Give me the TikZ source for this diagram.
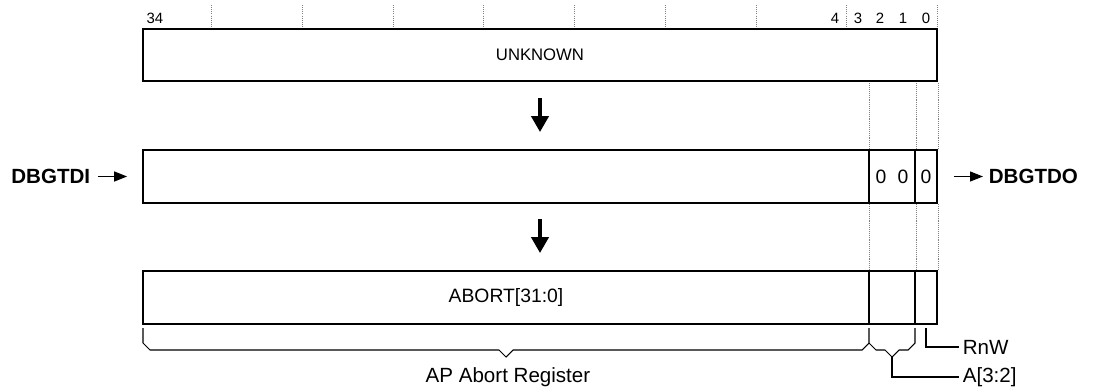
\documentclass[tikz,border=0pt]{standalone}
\usepackage{fontspec}
\setmainfont{Liberation Sans}
\usetikzlibrary{arrows.meta,positioning,calc}
\tikzset{
  field/.style={draw=black,line width=1.1pt,minimum height=1.06cm,inner sep=0pt,
    font=\fontsize{11}{13}\selectfont},
  bitnum/.style={font=\fontsize{8.5}{10}\selectfont,inner sep=0pt},
  tick/.style={draw=gray,line width=0.5pt,dash pattern=on 0.6pt off 0.6pt},
  flowdown/.style={-{Triangle[length=9pt,width=9.6pt]},line width=2.2pt},
  sidearrow/.style={-{Triangle[length=7.4pt,width=5.7pt]},line width=0.75pt},
  brace/.style={draw=black,line width=0.6pt},
  leader/.style={draw=black,line width=0.6pt},
  signal/.style={font=\bfseries\fontsize{11.7}{14}\selectfont,inner sep=2pt},
  labelstyle/.style={font=\fontsize{11.7}{14}\selectfont,inner sep=2pt}
}

\begin{document}
\begin{tikzpicture}[x=0.02cm,y=-0.02cm]
  \useasboundingbox (0,0) rectangle (1093,389);

  % bit numbers and ticks
  \foreach \x in {211,302,393,483,574,665,756,846,937}
    \draw[tick] (\x,5) -- (\x,27);
  \node[bitnum] (b34) at (155,18) {34};
  \foreach \b/\x in {4/835,3/858,2/880,1/903,0/926}
    \node[bitnum] (b\b) at (\x,18) {\b};

  % registers
  \node[field,minimum width=15.88cm,minimum height=1.04cm,
    font=\fontsize{9.5}{11}\selectfont] (unk) at (540,55) {UNKNOWN};

  \node[field,minimum width=14.52cm] (shbig) at (506,176.5) {};
  \node[field,minimum width=0.92cm] (shA) at (892,176.5) {0\hspace{0.57em}0};
  \node[field,minimum width=0.44cm] (shR) at (926,176.5) {0};

  \node[field,minimum width=14.52cm] (abbig) at (506,297.5) {ABORT[31:0]};
  \node[field,minimum width=0.92cm] (abA) at (892,297.5) {};
  \node[field,minimum width=0.44cm] (abR) at (926,297.5) {};

  \foreach \s/\a in {shbig/abbig,shA/abA,shR/abR}{
    \draw[tick] (\s.north east) -- (\s.north east |- unk.south);
    \draw[tick] (\a.north east) -- (\s.south east);
  }

  % shift arrows
  \draw[flowdown,shorten <=0.32cm,shorten >=0.34cm] (unk.south) -- (unk.south |- shbig.north);
  \draw[flowdown,shorten <=0.3cm,shorten >=0.34cm] (unk.south |- shbig.south) -- (unk.south |- abbig.north);

  \node[signal,anchor=east] (din) at (94,176.5) {DBGTDI};
  \draw[sidearrow,shorten <=0.08cm,shorten >=0.3cm] (din.east) -- (din.east -| shbig.west);
  \node[signal,anchor=west] (dout) at (985,176.5) {DBGTDO};
  \draw[sidearrow,shorten <=0.32cm,shorten >=0.04cm] (shR.east |- dout.west) -- (dout.west);

  % braces
  \draw[brace] (143,328) -- (143,343) -- (150,350) -- (499,350) -- (506,357)
    -- (513,350) -- (862,350) -- (869,343) -- (869,328);
  \draw[brace] (869,343) -- (876,350) -- (885,350) -- (892,357)
    -- (899,350) -- (908,350) -- (915,343) -- (915,328);
  \coordinate (tipA) at (892,357);
  \coordinate (rtop) at (926,328);

  \node[labelstyle] (apreg) at (508,377) {AP Abort Register};
  \node[labelstyle,anchor=west] (lblR) at (959,347) {RnW};
  \node[labelstyle,anchor=west] (lblA) at (959,377) {A[3:2]};
  \draw[leader] (tipA) |- (lblA.west);
  \draw[leader] (rtop) |- (lblR.west);
\end{tikzpicture}
\end{document}
